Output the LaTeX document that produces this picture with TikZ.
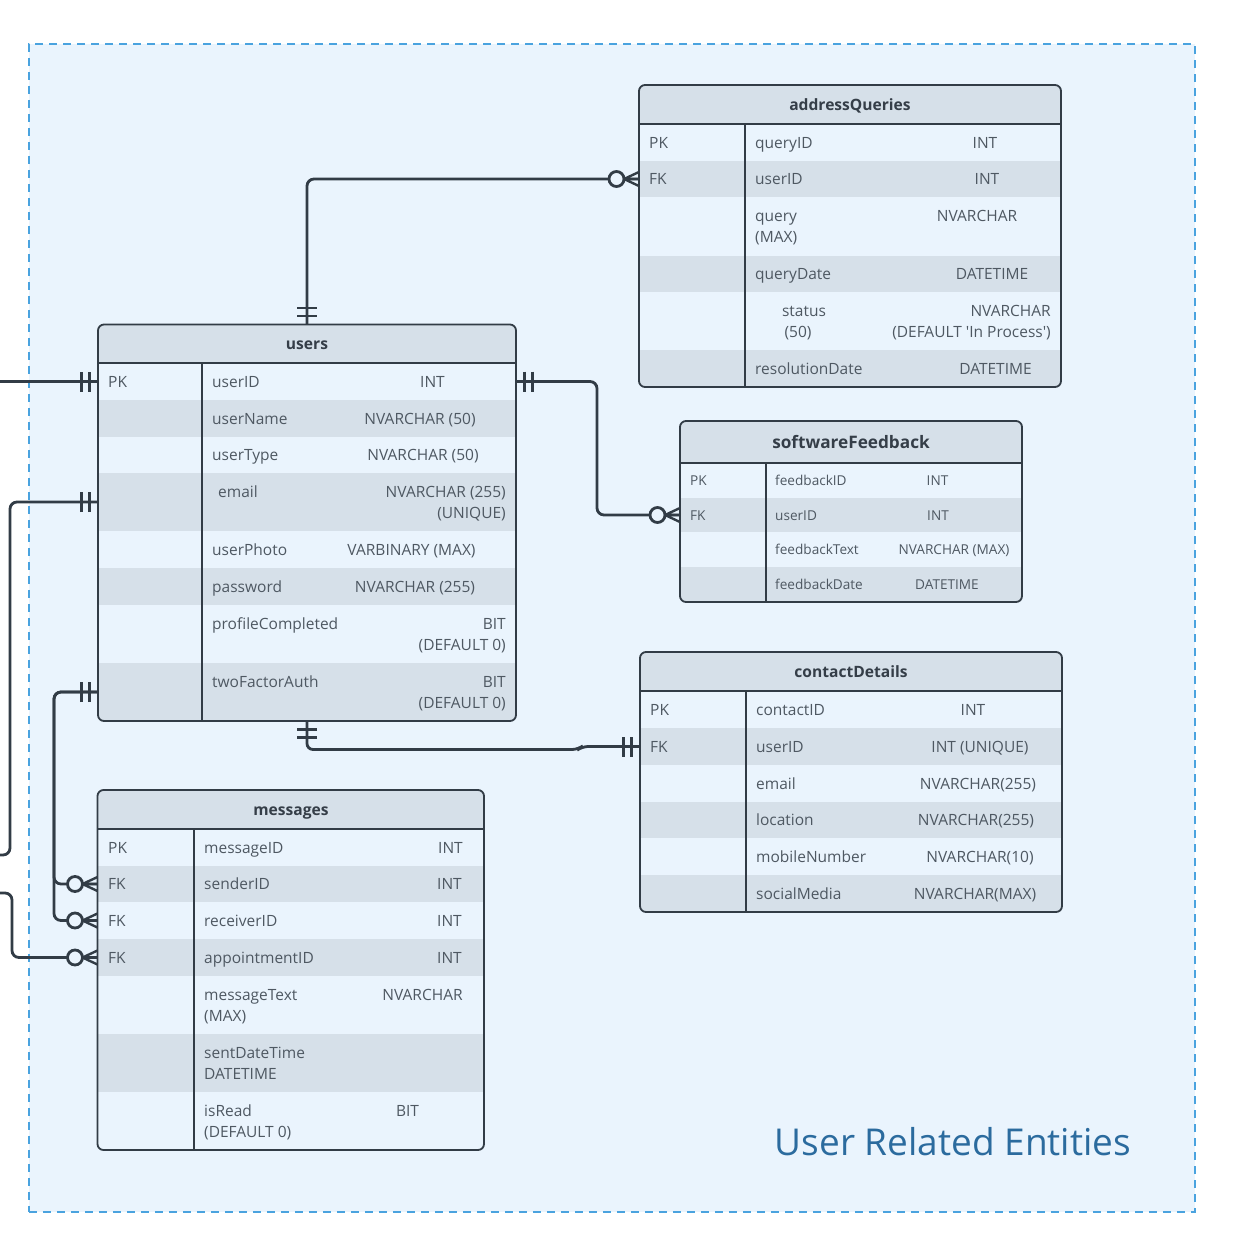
\documentclass[tikz,border=0pt]{standalone}
\usepackage{fontspec}
\setmainfont{Open Sans}
\usetikzlibrary{calc}
\definecolor{bg}{HTML}{EAF4FD}
\definecolor{rowd}{HTML}{D6E0E9}
\definecolor{edge}{HTML}{323C46}
\definecolor{txt}{HTML}{4E5862}
\definecolor{ttlc}{HTML}{353E48}
\definecolor{dashc}{HTML}{4AA3DF}
\definecolor{bigt}{HTML}{2B6B9E}
\newcommand\erfont{\fontsize{15.5}{18}\selectfont}
\newcommand\ersfont{\fontsize{13.6}{16}\selectfont}
\newcommand\erhfont{\fontsize{15.6}{18}\selectfont\bfseries}
\newcommand\ershfont{\fontsize{17.2}{19}\selectfont\bfseries}
\newcommand\erbig{\fontsize{37}{40}\selectfont}
\newcommand\erow[6]{\node[rowbox, fill=#6, minimum width=#4pt, minimum height=#5pt] (#1) at (#2,#3) {};}
\tikzset{
  tblbox/.style={fill=bg, inner sep=0pt, outer sep=0pt, anchor=north west, minimum width=10pt},
  rowbox/.style={inner sep=0pt, outer sep=0pt, anchor=north west, draw=none},
  tblline/.style={draw=edge, line width=1.8pt},
  conn/.style={draw=edge, line width=2.8pt},
  tl/.style={anchor=base west, inner sep=0pt, text=txt, font=\erfont, yshift=-0.5pt},
  tc/.style={tl, anchor=base},
  tr/.style={tl, anchor=base east},
  sl/.style={tl, font=\ersfont},
  sc/.style={sl, anchor=base},
  ttl/.style={anchor=base, inner sep=0pt, text=ttlc, font=\erhfont, yshift=-0.5pt},
  onemark/.pic={\draw[conn] (-8.5pt,-10pt) -- (-8.5pt,10pt) (-16.5pt,-10pt) -- (-16.5pt,10pt);},
  manymark/.pic={\draw[conn, line width=2.4pt] (-15pt,0pt) -- (0pt,7pt) (-15pt,0pt) -- (0pt,-7pt) (-15pt,0pt) -- (0pt,0pt);
                 \draw[conn, fill=bg] (-22.5pt,0pt) circle[radius=7.5pt];}
}
\begin{document}
\begin{tikzpicture}[x=1pt,y=-1pt]
\fill[white] (0,0) rectangle (1243,1256);
\useasboundingbox (0,0) rectangle (1243,1256);
\node[draw=dashc, dash pattern=on 8pt off 6pt, line width=1.8pt, fill=bg, inner sep=0pt, anchor=north west, minimum width=1166pt, minimum height=1168pt] (frame) at (28,43) {};
\node[anchor=base, inner sep=0pt, text=bigt, font=\erbig] (group) at (953,1155.5) {User Related Entities};

% ---------------- users
\node[tblbox, minimum width=418pt, minimum height=396.5pt] (users) at (98,324.5) {};
\begin{scope}
\clip[rounded corners=6pt] (98,324.5) rectangle (516,721);
\erow{uh}{98}{324.5}{418}{38.5}{rowd}
\erow{u1}{98}{363}{418}{37}{none}
\erow{u2}{98}{400}{418}{37}{rowd}
\erow{u3}{98}{437}{418}{36}{none}
\erow{u4}{98}{473}{418}{58}{rowd}
\erow{u5}{98}{531}{418}{37}{none}
\erow{u6}{98}{568}{418}{37}{rowd}
\erow{u7}{98}{605}{418}{58}{none}
\erow{u8}{98}{663}{418}{58}{rowd}
\end{scope}
\draw[tblline] (uh.south west) -- (uh.south east);
\draw[tblline] (202,363) -- (202,721);
\draw[tblline, rounded corners=6pt] (users.north west) rectangle (users.south east);
\node[ttl] (uT) at (307,349) {users};
\node[tl] (u1k) at (108,386.9) {PK};
\node[tl] (u1n) at (212,386.9) {userID};
\node[tc] (u1t) at (432.5,386.9) {INT};
\node[tl] (u2n) at (212,423.9) {userName};
\node[tc] (u2t) at (420,423.9) {NVARCHAR (50)};
\node[tl] (u3n) at (212,460.4) {userType};
\node[tc] (u3t) at (423,460.4) {NVARCHAR (50)};
\node[tl] (u4n) at (218,496.9) {email};
\node[tr] (u4t) at (506,496.9) {NVARCHAR (255)};
\node[tr] (u4u) at (506,517.9) {(UNIQUE)};
\node[tl] (u5n) at (212,554.9) {userPhoto};
\node[tc] (u5t) at (411.5,554.9) {VARBINARY (MAX)};
\node[tl] (u6n) at (212,591.9) {password};
\node[tc] (u6t) at (415,591.9) {NVARCHAR (255)};
\node[tl] (u7n) at (212,628.9) {profileCompleted};
\node[tr] (u7t) at (506,628.9) {BIT};
\node[tr] (u7u) at (506,649.9) {(DEFAULT 0)};
\node[tl] (u8n) at (212,686.9) {twoFactorAuth};
\node[tr] (u8t) at (506,686.9) {BIT};
\node[tr] (u8u) at (506,707.9) {(DEFAULT 0)};

% ---------------- addressQueries
\node[tblbox, minimum width=422pt, minimum height=302pt] (addr) at (639,85) {};
\begin{scope}
\clip[rounded corners=6pt] (639,85) rectangle (1061,387);
\erow{ah}{639}{85}{422}{39}{rowd}
\erow{a1}{639}{124}{422}{37}{none}
\erow{a2}{639}{161}{422}{36}{rowd}
\erow{a3}{639}{197}{422}{59}{none}
\erow{a4}{639}{256}{422}{36}{rowd}
\erow{a5}{639}{292}{422}{58}{none}
\erow{a6}{639}{350}{422}{37}{rowd}
\end{scope}
\draw[tblline] (ah.south west) -- (ah.south east);
\draw[tblline] (745,124) -- (745,387);
\draw[tblline, rounded corners=6pt] (addr.north west) rectangle (addr.south east);
\node[ttl] (aT) at (850,109.9) {addressQueries};
\node[tl] (a1k) at (649,147.9) {PK};
\node[tl] (a1n) at (755,147.9) {queryID};
\node[tc] (a1t) at (985,147.9) {INT};
\node[tl] (a2k) at (649,184.4) {FK};
\node[tl] (a2n) at (755,184.4) {userID};
\node[tc] (a2t) at (987,184.4) {INT};
\node[tl] (a3n) at (755,221.4) {query};
\node[tl] (a3m) at (755,242.4) {(MAX)};
\node[tc] (a3t) at (977,221.4) {NVARCHAR};
\node[tl] (a4n) at (755,279.4) {queryDate};
\node[tc] (a4t) at (992,279.4) {DATETIME};
\node[tc] (a5n) at (804,315.9) {status};
\node[tc] (a5m) at (798,336.9) {(50)};
\node[tr] (a5t) at (1051,315.9) {NVARCHAR};
\node[tr] (a5u) at (1051,336.9) {(DEFAULT \textquotesingle In Process\textquotesingle)};
\node[tl] (a6n) at (755,373.9) {resolutionDate};
\node[tc] (a6t) at (995.5,373.9) {DATETIME};

% ---------------- softwareFeedback
\node[tblbox, minimum width=342pt, minimum height=181pt] (soft) at (680,421) {};
\begin{scope}
\clip[rounded corners=6pt] (680,421) rectangle (1022,602);
\erow{sh}{680}{421}{342}{42}{rowd}
\erow{s1}{680}{463}{342}{35}{none}
\erow{s2}{680}{498}{342}{34}{rowd}
\erow{s3}{680}{532}{342}{35}{none}
\erow{s4}{680}{567}{342}{35}{rowd}
\end{scope}
\draw[tblline] (sh.south west) -- (sh.south east);
\draw[tblline] (766,463) -- (766,602);
\draw[tblline, rounded corners=6pt] (soft.north west) rectangle (soft.south east);
\node[ttl, font=\ershfont] (sT) at (851,448) {softwareFeedback};
\node[sl] (s1k) at (690,485.1) {PK};
\node[sl] (s1n) at (775,485.1) {feedbackID};
\node[sc] (s1t) at (937.5,485.1) {INT};
\node[sl] (s2k) at (690,519.6) {FK};
\node[sl] (s2n) at (775,519.6) {userID};
\node[sc] (s2t) at (938,519.6) {INT};
\node[sl] (s3n) at (775,554.1) {feedbackText};
\node[sc] (s3t) at (954,554.1) {NVARCHAR (MAX)};
\node[sl] (s4n) at (775,589.1) {feedbackDate};
\node[sc] (s4t) at (947,589.1) {DATETIME};

% ---------------- contactDetails
\node[tblbox, minimum width=422pt, minimum height=260pt] (cont) at (640,652) {};
\begin{scope}
\clip[rounded corners=6pt] (640,652) rectangle (1062,912);
\erow{ch}{640}{652}{422}{39}{rowd}
\erow{c1}{640}{691}{422}{37}{none}
\erow{c2}{640}{728}{422}{37}{rowd}
\erow{c3}{640}{765}{422}{37}{none}
\erow{c4}{640}{802}{422}{36}{rowd}
\erow{c5}{640}{838}{422}{37}{none}
\erow{c6}{640}{875}{422}{37}{rowd}
\end{scope}
\draw[tblline] (ch.south west) -- (ch.south east);
\draw[tblline] (746,691) -- (746,912);
\draw[tblline, rounded corners=6pt] (cont.north west) rectangle (cont.south east);
\node[ttl] (cT) at (851,676.9) {contactDetails};
\node[tl] (c1k) at (650,714.9) {PK};
\node[tl] (c1n) at (756,714.9) {contactID};
\node[tc] (c1t) at (973,714.9) {INT};
\node[tl] (c2k) at (650,751.9) {FK};
\node[tl] (c2n) at (756,751.9) {userID};
\node[tc] (c2t) at (980,751.9) {INT (UNIQUE)};
\node[tl] (c3n) at (756,788.9) {email};
\node[tc] (c3t) at (978,788.9) {NVARCHAR(255)};
\node[tl] (c4n) at (756,825.4) {location};
\node[tc] (c4t) at (976,825.4) {NVARCHAR(255)};
\node[tl] (c5n) at (756,861.9) {mobileNumber};
\node[tc] (c5t) at (980,861.9) {NVARCHAR(10)};
\node[tl] (c6n) at (756,898.9) {socialMedia};
\node[tc] (c6t) at (975,898.9) {NVARCHAR(MAX)};

% ---------------- messages
\node[tblbox, minimum width=386.5pt, minimum height=360pt] (msg) at (97.5,790) {};
\begin{scope}
\clip[rounded corners=6pt] (97.5,790) rectangle (484,1150);
\erow{mh}{97.5}{790}{386.5}{39}{rowd}
\erow{m1}{97.5}{829}{386.5}{37}{none}
\erow{m2}{97.5}{866}{386.5}{36}{rowd}
\erow{m3}{97.5}{902}{386.5}{37}{none}
\erow{m4}{97.5}{939}{386.5}{37}{rowd}
\erow{m5}{97.5}{976}{386.5}{58}{none}
\erow{m6}{97.5}{1034}{386.5}{58}{rowd}
\erow{m7}{97.5}{1092}{386.5}{58}{none}
\end{scope}
\draw[tblline] (mh.south west) -- (mh.south east);
\draw[tblline] (194,829) -- (194,1150);
\draw[tblline, rounded corners=6pt] (msg.north west) rectangle (msg.south east);
\node[ttl] (mT) at (291,814.9) {messages};
\node[tl] (m1k) at (108,852.9) {PK};
\node[tl] (m1n) at (204,852.9) {messageID};
\node[tr] (m1t) at (463,852.9) {INT};
\node[tl] (m2k) at (108,889.4) {FK};
\node[tl] (m2n) at (204,889.4) {senderID};
\node[tr] (m2t) at (462,889.4) {INT};
\node[tl] (m3k) at (108,925.9) {FK};
\node[tl] (m3n) at (204,925.9) {receiverID};
\node[tr] (m3t) at (462,925.9) {INT};
\node[tl] (m4k) at (108,962.9) {FK};
\node[tl] (m4n) at (204,962.9) {appointmentID};
\node[tr] (m4t) at (462,962.9) {INT};
\node[tl] (m5n) at (204,999.9) {messageText};
\node[tl] (m5m) at (204,1020.9) {(MAX)};
\node[tc] (m5t) at (422.5,999.9) {NVARCHAR};
\node[tl] (m6n) at (204,1057.9) {sentDateTime};
\node[tl] (m6m) at (204,1078.9) {DATETIME};
\node[tl] (m7n) at (204,1115.9) {isRead};
\node[tl] (m7m) at (204,1136.9) {(DEFAULT 0)};
\node[tc] (m7t) at (407.5,1115.9) {BIT};

% ---------------- connectors
\coordinate (offA) at (0,381.5);
\coordinate (bendB) at (10,855);
\coordinate (offB) at (0,855);
\coordinate (bendC) at (12,893);
\coordinate (offC) at (0,893);
\coordinate (busX) at (54,0);

\draw[conn, rounded corners=7pt] (users.north) |- (a2.west);
\pic[rotate=-90] at (users.north) {onemark};
\pic at (a2.west) {manymark};

\draw[conn, rounded corners=7pt] (u1.east) -- ++(81,0) |- (s2.west);
\pic[rotate=180] at (u1.east) {onemark};
\pic at (s2.west) {manymark};

\draw[conn] (u1.west) -- (u1.west -| offA);
\pic at (u1.west) {onemark};

\draw[conn, rounded corners=7pt] (u4.west) -| (bendB) -- (offB);
\pic at (u4.west) {onemark};

\draw[conn, rounded corners=7pt] (m4.west) -| (bendC) -- (offC);
\pic at (m4.west) {manymark};

\draw[conn, rounded corners=7pt] (u8.west) -| (m2.west -| busX) -- (m2.west);
\draw[conn, rounded corners=7pt] (u8.west) -| (m3.west -| busX) -- (m3.west);
\pic at (u8.west) {onemark};
\pic at (m2.west) {manymark};
\pic at (m3.west) {manymark};

\draw[conn, rounded corners=6pt] (users.south) |- ($(c2.west)+(-62,3)$) -- ($(c2.west)+(-58,0)$) -- (c2.west);
\pic[rotate=90] at (users.south) {onemark};
\pic at (c2.west) {onemark};
\end{tikzpicture}
\end{document}
